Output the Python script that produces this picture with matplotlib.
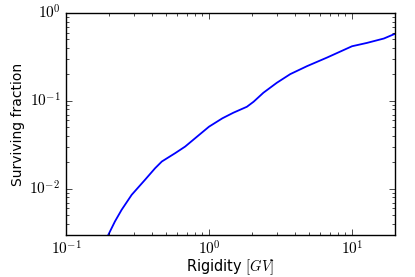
import math
import matplotlib
matplotlib.use('Agg')
import matplotlib.pyplot as plt
from matplotlib.ticker import FuncFormatter

plt.style.use('classic')
plt.rcParams['mathtext.fontset'] = 'cm'

# curve (rigidity in GV, surviving fraction)
rigidity = [0.185, 0.198, 0.220, 0.245, 0.288, 0.357, 0.420, 0.468, 0.580, 0.681, 0.800,
            1.0, 1.24, 1.48, 1.84, 2.05, 2.40, 2.98, 3.70, 4.85, 6.70, 10.0, 12.7, 16.7,
            19.6, 20.1]
fraction = [0.0024, 0.00302, 0.00427, 0.00579, 0.00857, 0.0127, 0.0172, 0.0205, 0.0255,
            0.0303, 0.0377, 0.0510, 0.0635, 0.0735, 0.0859, 0.098, 0.124, 0.161, 0.202,
            0.249, 0.312, 0.419, 0.457, 0.513, 0.573, 0.583]

fig = plt.figure(figsize=(4.15, 2.77), dpi=100, facecolor='white')
fig.subplots_adjust(left=0.159, right=0.952, top=0.953, bottom=0.152)
ax = fig.add_subplot(111)

ax.loglog(rigidity, fraction, color='b', lw=1.3)
ax.set_xlim(0.1, 20)
ax.set_ylim(0.003, 1)

# old-style computer modern tick labels
fmt = FuncFormatter(lambda v, p: r'$\mathrm{10^{%d}}$' % round(math.log10(v)))
ax.xaxis.set_major_formatter(fmt)
ax.yaxis.set_major_formatter(fmt)

ax.tick_params(labelsize=11)
ax.tick_params(axis='x', pad=3)
ax.set_xlabel('Rigidity $[GV]$', fontsize=10.5, labelpad=0)
ax.set_ylabel('Surviving fraction', fontsize=10, labelpad=3)

fig.savefig('out.png', dpi=100, facecolor='white')
